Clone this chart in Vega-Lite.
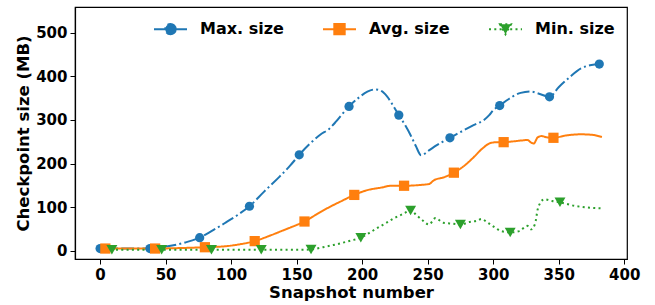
{
  "$schema": "https://vega.github.io/schema/vega-lite/v6.json",
  "width": 552,
  "height": 252,
  "autosize": {"type": "none"},
  "padding": {"left": 75, "top": 7, "right": 28, "bottom": 46},
  "background": "white",
  "config": {
    "view": {"stroke": "black", "strokeWidth": 1.2},
    "font": "DejaVu Sans",
    "axis": {
      "grid": false,
      "labelFont": "DejaVu Sans",
      "labelFontWeight": "bold",
      "labelFontSize": 15,
      "labelColor": "black",
      "titleFont": "DejaVu Sans",
      "titleFontWeight": "bold",
      "titleFontSize": 16.5,
      "titleColor": "black",
      "tickColor": "black",
      "tickSize": 5,
      "tickWidth": 1,
      "domainColor": "black",
      "domainWidth": 1.2,
      "labelPadding": 3
    }
  },
  "datasets": {
    "lines": [
      {"series": "Max. size", "snapshot": 0, "size": 5},
      {"series": "Max. size", "snapshot": 10, "size": 5},
      {"series": "Max. size", "snapshot": 20, "size": 5},
      {"series": "Max. size", "snapshot": 30, "size": 5},
      {"series": "Max. size", "snapshot": 38, "size": 5},
      {"series": "Max. size", "snapshot": 45, "size": 7},
      {"series": "Max. size", "snapshot": 55, "size": 12},
      {"series": "Max. size", "snapshot": 65, "size": 19},
      {"series": "Max. size", "snapshot": 76, "size": 30},
      {"series": "Max. size", "snapshot": 85, "size": 45},
      {"series": "Max. size", "snapshot": 95, "size": 63},
      {"series": "Max. size", "snapshot": 105, "size": 82},
      {"series": "Max. size", "snapshot": 114, "size": 102},
      {"series": "Max. size", "snapshot": 125, "size": 135},
      {"series": "Max. size", "snapshot": 137, "size": 170},
      {"series": "Max. size", "snapshot": 145, "size": 195},
      {"series": "Max. size", "snapshot": 152, "size": 220},
      {"series": "Max. size", "snapshot": 160, "size": 245},
      {"series": "Max. size", "snapshot": 168, "size": 266},
      {"series": "Max. size", "snapshot": 175, "size": 280},
      {"series": "Max. size", "snapshot": 180, "size": 296},
      {"series": "Max. size", "snapshot": 185, "size": 314},
      {"series": "Max. size", "snapshot": 190, "size": 331},
      {"series": "Max. size", "snapshot": 197, "size": 350},
      {"series": "Max. size", "snapshot": 204, "size": 365},
      {"series": "Max. size", "snapshot": 210, "size": 370},
      {"series": "Max. size", "snapshot": 215, "size": 366},
      {"series": "Max. size", "snapshot": 219, "size": 354},
      {"series": "Max. size", "snapshot": 224, "size": 331},
      {"series": "Max. size", "snapshot": 228, "size": 311},
      {"series": "Max. size", "snapshot": 233, "size": 287},
      {"series": "Max. size", "snapshot": 237, "size": 265},
      {"series": "Max. size", "snapshot": 241, "size": 240},
      {"series": "Max. size", "snapshot": 245, "size": 219},
      {"series": "Max. size", "snapshot": 251, "size": 230},
      {"series": "Max. size", "snapshot": 257, "size": 242},
      {"series": "Max. size", "snapshot": 262, "size": 251},
      {"series": "Max. size", "snapshot": 267, "size": 259},
      {"series": "Max. size", "snapshot": 275, "size": 272},
      {"series": "Max. size", "snapshot": 285, "size": 288},
      {"series": "Max. size", "snapshot": 293, "size": 300},
      {"series": "Max. size", "snapshot": 297, "size": 311},
      {"series": "Max. size", "snapshot": 300, "size": 322},
      {"series": "Max. size", "snapshot": 305, "size": 333},
      {"series": "Max. size", "snapshot": 312, "size": 348},
      {"series": "Max. size", "snapshot": 321, "size": 362},
      {"series": "Max. size", "snapshot": 329, "size": 365},
      {"series": "Max. size", "snapshot": 335, "size": 360},
      {"series": "Max. size", "snapshot": 343, "size": 353},
      {"series": "Max. size", "snapshot": 350, "size": 375},
      {"series": "Max. size", "snapshot": 358, "size": 397},
      {"series": "Max. size", "snapshot": 367, "size": 418},
      {"series": "Max. size", "snapshot": 375, "size": 426},
      {"series": "Max. size", "snapshot": 381, "size": 428},
      {"series": "Avg. size", "snapshot": 0, "size": 5},
      {"series": "Avg. size", "snapshot": 4, "size": 5},
      {"series": "Avg. size", "snapshot": 20, "size": 5},
      {"series": "Avg. size", "snapshot": 42, "size": 5},
      {"series": "Avg. size", "snapshot": 60, "size": 6},
      {"series": "Avg. size", "snapshot": 80, "size": 8},
      {"series": "Avg. size", "snapshot": 95, "size": 10},
      {"series": "Avg. size", "snapshot": 105, "size": 14},
      {"series": "Avg. size", "snapshot": 118, "size": 22},
      {"series": "Avg. size", "snapshot": 130, "size": 35},
      {"series": "Avg. size", "snapshot": 140, "size": 47},
      {"series": "Avg. size", "snapshot": 150, "size": 59},
      {"series": "Avg. size", "snapshot": 156, "size": 67},
      {"series": "Avg. size", "snapshot": 165, "size": 83},
      {"series": "Avg. size", "snapshot": 175, "size": 100},
      {"series": "Avg. size", "snapshot": 185, "size": 115},
      {"series": "Avg. size", "snapshot": 194, "size": 128},
      {"series": "Avg. size", "snapshot": 204, "size": 139},
      {"series": "Avg. size", "snapshot": 215, "size": 145},
      {"series": "Avg. size", "snapshot": 222, "size": 149},
      {"series": "Avg. size", "snapshot": 232, "size": 149},
      {"series": "Avg. size", "snapshot": 245, "size": 151},
      {"series": "Avg. size", "snapshot": 251, "size": 153},
      {"series": "Avg. size", "snapshot": 255, "size": 162},
      {"series": "Avg. size", "snapshot": 262, "size": 168},
      {"series": "Avg. size", "snapshot": 270, "size": 179},
      {"series": "Avg. size", "snapshot": 278, "size": 195},
      {"series": "Avg. size", "snapshot": 285, "size": 214},
      {"series": "Avg. size", "snapshot": 292, "size": 235},
      {"series": "Avg. size", "snapshot": 298, "size": 247},
      {"series": "Avg. size", "snapshot": 303, "size": 249},
      {"series": "Avg. size", "snapshot": 308, "size": 249},
      {"series": "Avg. size", "snapshot": 316, "size": 251},
      {"series": "Avg. size", "snapshot": 322, "size": 253},
      {"series": "Avg. size", "snapshot": 326, "size": 254},
      {"series": "Avg. size", "snapshot": 329, "size": 248},
      {"series": "Avg. size", "snapshot": 331, "size": 246},
      {"series": "Avg. size", "snapshot": 334, "size": 260},
      {"series": "Avg. size", "snapshot": 337, "size": 263},
      {"series": "Avg. size", "snapshot": 341, "size": 260},
      {"series": "Avg. size", "snapshot": 346, "size": 259},
      {"series": "Avg. size", "snapshot": 355, "size": 264},
      {"series": "Avg. size", "snapshot": 367, "size": 267},
      {"series": "Avg. size", "snapshot": 375, "size": 266},
      {"series": "Avg. size", "snapshot": 383, "size": 261},
      {"series": "Min. size", "snapshot": 0, "size": 2},
      {"series": "Min. size", "snapshot": 9, "size": 2},
      {"series": "Min. size", "snapshot": 47, "size": 2},
      {"series": "Min. size", "snapshot": 85, "size": 2},
      {"series": "Min. size", "snapshot": 123, "size": 2},
      {"series": "Min. size", "snapshot": 150, "size": 2},
      {"series": "Min. size", "snapshot": 161, "size": 3},
      {"series": "Min. size", "snapshot": 170, "size": 8},
      {"series": "Min. size", "snapshot": 178, "size": 13},
      {"series": "Min. size", "snapshot": 191, "size": 23},
      {"series": "Min. size", "snapshot": 199, "size": 30},
      {"series": "Min. size", "snapshot": 205, "size": 40},
      {"series": "Min. size", "snapshot": 211, "size": 51},
      {"series": "Min. size", "snapshot": 218, "size": 63},
      {"series": "Min. size", "snapshot": 224, "size": 74},
      {"series": "Min. size", "snapshot": 231, "size": 84},
      {"series": "Min. size", "snapshot": 237, "size": 92},
      {"series": "Min. size", "snapshot": 242, "size": 80},
      {"series": "Min. size", "snapshot": 246, "size": 70},
      {"series": "Min. size", "snapshot": 251, "size": 60},
      {"series": "Min. size", "snapshot": 256, "size": 75},
      {"series": "Min. size", "snapshot": 262, "size": 64},
      {"series": "Min. size", "snapshot": 269, "size": 62},
      {"series": "Min. size", "snapshot": 275, "size": 60},
      {"series": "Min. size", "snapshot": 282, "size": 66},
      {"series": "Min. size", "snapshot": 288, "size": 69},
      {"series": "Min. size", "snapshot": 291, "size": 73},
      {"series": "Min. size", "snapshot": 295, "size": 66},
      {"series": "Min. size", "snapshot": 298, "size": 60},
      {"series": "Min. size", "snapshot": 302, "size": 52},
      {"series": "Min. size", "snapshot": 306, "size": 45},
      {"series": "Min. size", "snapshot": 313, "size": 42},
      {"series": "Min. size", "snapshot": 320, "size": 45},
      {"series": "Min. size", "snapshot": 326, "size": 57},
      {"series": "Min. size", "snapshot": 329, "size": 49},
      {"series": "Min. size", "snapshot": 332, "size": 62},
      {"series": "Min. size", "snapshot": 334, "size": 95},
      {"series": "Min. size", "snapshot": 336, "size": 110},
      {"series": "Min. size", "snapshot": 339, "size": 118},
      {"series": "Min. size", "snapshot": 345, "size": 114},
      {"series": "Min. size", "snapshot": 351, "size": 111},
      {"series": "Min. size", "snapshot": 362, "size": 103},
      {"series": "Min. size", "snapshot": 372, "size": 99},
      {"series": "Min. size", "snapshot": 383, "size": 97}
    ],
    "markers": [
      {"series": "Max. size", "snapshot": 0, "size": 5},
      {"series": "Max. size", "snapshot": 38, "size": 5},
      {"series": "Max. size", "snapshot": 76, "size": 30},
      {"series": "Max. size", "snapshot": 114, "size": 102},
      {"series": "Max. size", "snapshot": 152, "size": 220},
      {"series": "Max. size", "snapshot": 190, "size": 331},
      {"series": "Max. size", "snapshot": 228, "size": 311},
      {"series": "Max. size", "snapshot": 267, "size": 259},
      {"series": "Max. size", "snapshot": 305, "size": 333},
      {"series": "Max. size", "snapshot": 343, "size": 353},
      {"series": "Max. size", "snapshot": 381, "size": 428},
      {"series": "Avg. size", "snapshot": 4, "size": 5},
      {"series": "Avg. size", "snapshot": 42, "size": 5},
      {"series": "Avg. size", "snapshot": 80, "size": 8},
      {"series": "Avg. size", "snapshot": 118, "size": 22},
      {"series": "Avg. size", "snapshot": 156, "size": 67},
      {"series": "Avg. size", "snapshot": 194, "size": 128},
      {"series": "Avg. size", "snapshot": 232, "size": 149},
      {"series": "Avg. size", "snapshot": 270, "size": 179},
      {"series": "Avg. size", "snapshot": 308, "size": 249},
      {"series": "Avg. size", "snapshot": 346, "size": 259},
      {"series": "Min. size", "snapshot": 9, "size": 2},
      {"series": "Min. size", "snapshot": 47, "size": 2},
      {"series": "Min. size", "snapshot": 85, "size": 2},
      {"series": "Min. size", "snapshot": 123, "size": 2},
      {"series": "Min. size", "snapshot": 161, "size": 3},
      {"series": "Min. size", "snapshot": 199, "size": 30},
      {"series": "Min. size", "snapshot": 237, "size": 92},
      {"series": "Min. size", "snapshot": 275, "size": 60},
      {"series": "Min. size", "snapshot": 313, "size": 42},
      {"series": "Min. size", "snapshot": 351, "size": 111}
    ]
  },
  "encoding": {
    "x": {
      "field": "snapshot", "type": "quantitative",
      "scale": {"domain": [-19.15, 402.15], "nice": false, "zero": false},
      "axis": {"title": "Snapshot number", "values": [0, 50, 100, 150, 200, 250, 300, 350, 400], "titlePadding": 2}
    },
    "y": {
      "field": "size", "type": "quantitative",
      "scale": {"domain": [-19, 559], "nice": false, "zero": false},
      "axis": {"title": "Checkpoint size (MB)", "values": [0, 100, 200, 300, 400, 500], "titlePadding": 4}
    }
  },
  "layer": [
    {
      "data": {"name": "lines"},
      "mark": {"type": "line", "strokeWidth": 2, "interpolate": "monotone"},
      "encoding": {
        "color": {
          "field": "series", "type": "nominal",
          "scale": {"domain": ["Max. size", "Avg. size", "Min. size"], "range": ["#1f77b4", "#ff7f0e", "#2ca02c"]},
          "legend": {
            "title": null,
            "orient": "none",
            "legendX": 78,
            "legendY": 4.5,
            "direction": "horizontal",
            "padding": 0,
            "labelFont": "DejaVu Sans",
            "labelFontSize": 16,
            "labelFontWeight": "bold",
            "labelColor": "black",
            "symbolType": "M-1,0L1,0",
            "symbolSize": 1089,
            "symbolStrokeWidth": 2,
            "labelOffset": 12,
            "columnPadding": 35,
            "encode": {
              "symbols": {
                "update": {
                  "shape": {"signal": "datum.value === 'Max. size' ? 'M-1,0L1,0M0.315,0A0.315,0.315,0,1,1,-0.315,0A0.315,0.315,0,1,1,0.315,0Z' : datum.value === 'Avg. size' ? 'M-1,0L1,0M-0.315,-0.315L0.315,-0.315L0.315,0.315L-0.315,0.315Z' : 'M-1,0L1,0M-0.333,-0.3L0.333,-0.3L0,0.3Z'"},
                  "fill": {"scale": "color", "field": "value"},
                  "stroke": {"scale": "color", "field": "value"},
                  "strokeWidth": {"value": 2},
                  "strokeDash": {"signal": "datum.value === 'Max. size' ? [12.8, 3.2, 2, 3.2] : datum.value === 'Avg. size' ? [1, 0] : [2, 3.3]"},
                  "size": {"value": 1089},
                  "opacity": {"value": 1}
                }
              }
            }
          }
        },
        "strokeDash": {
          "field": "series", "type": "nominal",
          "scale": {"domain": ["Max. size", "Avg. size", "Min. size"], "range": [[12.8, 3.2, 2, 3.2], [1, 0], [2, 3.3]]},
          "legend": null
        }
      }
    },
    {
      "data": {"name": "markers"},
      "transform": [{"filter": "datum.series === 'Max. size'"}],
      "mark": {"type": "point", "filled": true, "opacity": 1, "shape": "circle", "size": 85},
      "encoding": {"color": {"field": "series", "type": "nominal", "legend": null}}
    },
    {
      "data": {"name": "markers"},
      "transform": [{"filter": "datum.series === 'Avg. size'"}],
      "mark": {"type": "point", "filled": true, "opacity": 1, "shape": "square", "size": 105},
      "encoding": {"color": {"field": "series", "type": "nominal", "legend": null}}
    },
    {
      "data": {"name": "markers"},
      "transform": [{"filter": "datum.series === 'Min. size'"}],
      "mark": {"type": "point", "filled": true, "opacity": 1, "shape": "triangle-down", "size": 120},
      "encoding": {"color": {"field": "series", "type": "nominal", "legend": null}}
    }
  ]
}
